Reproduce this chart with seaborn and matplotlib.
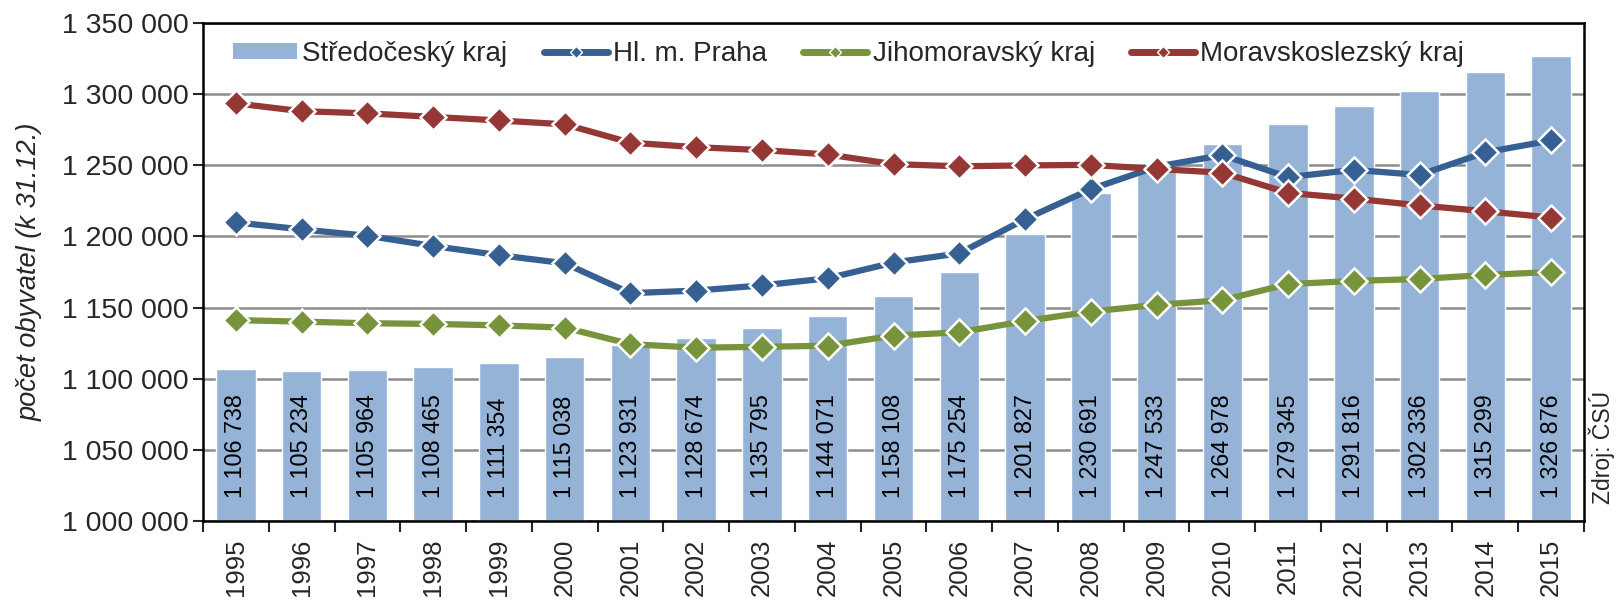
import numpy as np
import pandas as pd
import matplotlib
matplotlib.use("Agg")
import matplotlib.pyplot as plt
from matplotlib.lines import Line2D
from matplotlib.patches import Patch
from matplotlib.ticker import FuncFormatter, FixedLocator
import seaborn as sns

# ============================================================
# DATA
# ============================================================

years = [str(y) for y in range(1995, 2016)]

stredocesky = [1106738, 1105234, 1105964, 1108465, 1111354, 1115038, 1123931,
               1128674, 1135795, 1144071, 1158108, 1175254, 1201827, 1230691,
               1247533, 1264978, 1279345, 1291816, 1302336, 1315299, 1326876]

praha = [1209855, 1204953, 1200455, 1193270, 1186855, 1181126, 1160118,
         1161938, 1165581, 1170571, 1181610, 1188126, 1212097, 1233211,
         1249026, 1257158, 1241664, 1246780, 1243201, 1259079, 1267449]

jihomoravsky = [1141200, 1140100, 1139000, 1138500, 1137500, 1135900, 1124300,
                1121800, 1122400, 1123200, 1130300, 1132600, 1140500, 1147200,
                1151900, 1155200, 1166500, 1168700, 1170100, 1172900, 1175000]

moravskoslezsky = [1293500, 1288000, 1286500, 1284000, 1281500, 1278800, 1265900,
                   1262700, 1260700, 1257600, 1250800, 1249300, 1249900, 1250300,
                   1247400, 1244800, 1230600, 1226600, 1221800, 1217700, 1213300]

series_names = ["Středočeský kraj", "Hl. m. Praha", "Jihomoravský kraj", "Moravskoslezský kraj"]

# ============================================================
# STYLE
# ============================================================

sns.set_style("white")
plt.rcParams["font.family"] = ["Liberation Sans", "DejaVu Sans"]

bar_color = "#95B3D7"
line_colors = ["#376092", "#77933C", "#953735"]
grid_color = "#8C8C8C"

fig = plt.figure(figsize=(16.16, 6.0), dpi=100)
ax = fig.add_axes([203 / 1616, 1 - 521 / 600, (1584 - 203) / 1616, (521 - 23) / 600])

df_bars = pd.DataFrame({"year": years, "value": stredocesky})

sns.barplot(
    data=df_bars,
    x="year",
    y="value",
    color=bar_color,
    saturation=1,
    width=0.6,
    ax=ax,
    zorder=2
)

pos = np.arange(len(years))

for vals, col in zip([praha, jihomoravsky, moravskoslezsky], line_colors):
    sns.lineplot(
        x=pos,
        y=vals,
        color=col,
        linewidth=4.5,
        marker="D",
        markersize=13.5,
        markeredgecolor="white",
        markeredgewidth=1.8,
        ax=ax,
        zorder=4
    )

# bar value labels
for i, v in enumerate(stredocesky):
    ax.text(i, 1016000, f"{v:,}".replace(",", " "),
            rotation=90, ha="center", va="bottom",
            fontsize=16.8, color="black", zorder=5)

# ============================================================
# AXES
# ============================================================

ax.set_ylim(1000000, 1350000)
ax.set_xlim(-0.5, len(years) - 0.5)
ax.set_yticks(np.arange(1000000, 1350001, 50000))
ax.yaxis.set_major_formatter(FuncFormatter(lambda v, p: f"{int(v):,}".replace(",", " ")))
ax.yaxis.grid(True, color=grid_color, linewidth=1.8, zorder=0)
ax.set_axisbelow(True)

ax.xaxis.set_major_locator(FixedLocator(np.arange(-0.5, len(years), 1.0)))
ax.xaxis.set_major_formatter(FuncFormatter(lambda v, p: ""))
ax.xaxis.set_minor_locator(FixedLocator(pos))
ax.xaxis.set_minor_formatter(FuncFormatter(lambda v, p: years[int(round(v))]))
ax.tick_params(axis="x", which="major", length=8, width=1.5, direction="out", bottom=True)
ax.tick_params(axis="x", which="minor", length=0, pad=12.5, labelsize=18.5, labelrotation=90)
ax.tick_params(axis="y", length=7, width=1.5, direction="out", left=True, labelsize=20.5, pad=3)

for s in ax.spines.values():
    s.set_color("black")
    s.set_linewidth(1.8)

ax.set_xlabel("")
ax.set_ylabel("počet obyvatel (k 31.12.)", fontsize=19.6, style="italic")
ax.yaxis.set_label_coords(-(203 - 43) / (1584 - 203), 0.5)

# ============================================================
# LEGEND
# ============================================================

handles = [Patch(facecolor=bar_color, edgecolor="none")]
for col in line_colors:
    handles.append(Line2D([0], [0], color=col, linewidth=5, marker="D",
                          markersize=6, markeredgecolor="white", markeredgewidth=1))

fig.legend(
    handles,
    series_names,
    loc="center left",
    bbox_to_anchor=(233 / 1616, 1 - 54 / 600),
    ncol=4,
    frameon=False,
    fontsize=20,
    handlelength=2.3,
    handleheight=0.5,
    handletextpad=0.2,
    columnspacing=1.3,
    borderpad=0,
    borderaxespad=0
)

fig.text(1602 / 1616, 1 - 447 / 600, "Zdroj: ČSÚ", rotation=90,
         ha="center", va="center", fontsize=16.5)

plt.savefig("out.png", dpi=100)
plt.close()
